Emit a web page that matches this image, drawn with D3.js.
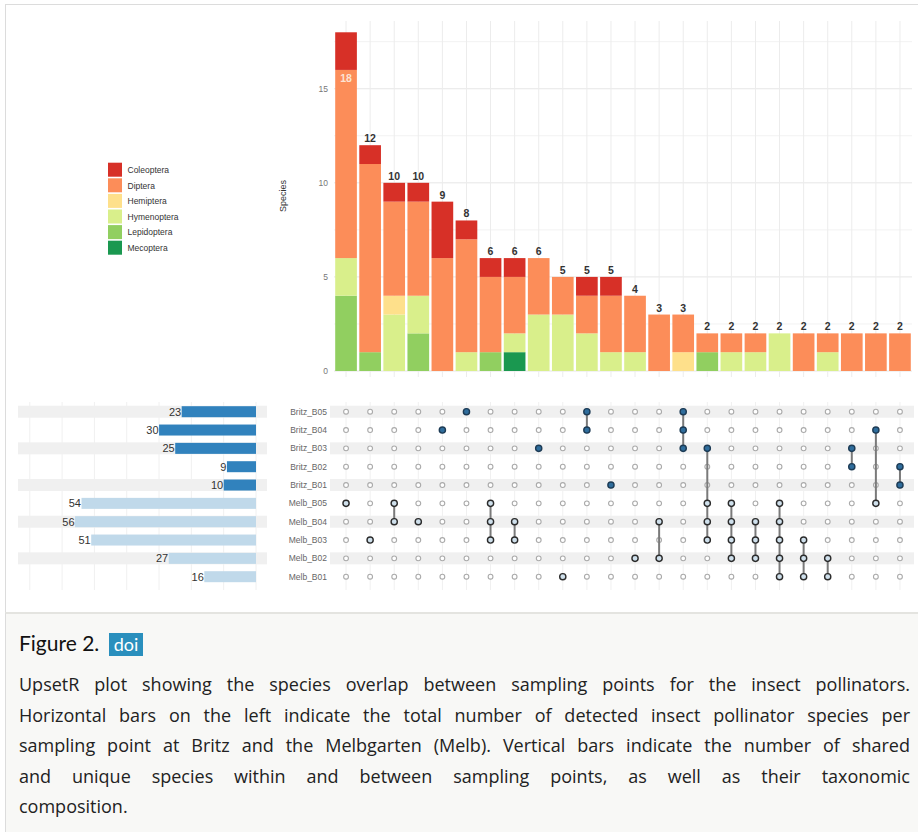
<!DOCTYPE html>
<html>
<head>
<meta charset="utf-8">
<script src="https://cdn.jsdelivr.net/npm/d3@7"></script>
<style>
  html, body { margin: 0; padding: 0; background: #fff; }
  body { width: 918px; height: 832px; position: relative; overflow: hidden; font-family: "Liberation Sans", Arial, sans-serif; }
  #figure { position: absolute; left: 5px; top: 4px; width: 930px; height: 608px; border-left: 1px solid #dcdcdc; border-top: 1px solid #dcdcdc; background: #fff; }
  #chart { position: absolute; left: 0; top: 0; }
  #caption { position: absolute; left: 5px; top: 612px; width: 930px; height: 240px; background: #f8f8f6; border-left: 1px solid #dcdcdc; border-top: 2px solid #e4e4e0; }
  #caption .title { position: absolute; left: 13px; top: 16px; font-family: Lato, "Open Sans", sans-serif; font-size: 21px; color: #111; }
  #caption .doi { display: inline-block; background: #2a8fbd; color: #fff; font-size: 18px; padding: 0 5px; line-height: 23px; margin-left: 4px; }
  #caption .text { position: absolute; left: 13px; top: 55px; width: 891px; font-family: "Open Sans", sans-serif; font-size: 18px; line-height: 30.5px; color: #222; }
  #caption .text span { display: block; white-space: nowrap; text-align: justify; text-align-last: justify; }
  #caption .text span.last { text-align-last: left; }
</style>
</head>
<body>
<div id="figure"></div>
<svg id="chart" width="918" height="612"></svg>
<div id="caption">
  <div class="title">Figure 2. <span class="doi">doi</span></div>
  <div class="text">
    <span>UpsetR plot showing the species overlap between sampling points for the insect pollinators.</span>
    <span>Horizontal bars on the left indicate the total number of detected insect pollinator species per</span>
    <span>sampling point at Britz and the Melbgarten (Melb). Vertical bars indicate the number of shared</span>
    <span>and unique species within and between sampling points, as well as their taxonomic</span>
    <span class="last">composition.</span>
  </div>
</div>
<script>
// sampling points (rows of the matrix), top to bottom
const sets = ['Britz_B05', 'Britz_B04', 'Britz_B03', 'Britz_B02', 'Britz_B01',
  'Melb_B05', 'Melb_B04', 'Melb_B03', 'Melb_B02', 'Melb_B01'];
const setSizes = [23, 30, 25, 9, 10, 54, 56, 51, 27, 16];

// insect orders (legend order) and their colours
const orders = ['Coleoptera', 'Diptera', 'Hemiptera', 'Hymenoptera', 'Lepidoptera', 'Mecoptera'];
const orderColors = ['#d73027', '#fc8d59', '#fee08b', '#d9ef8b', '#91cf60', '#1a9850'];

// species per order in each intersection (columns left to right)
const coleoptera  = [2, 1, 1, 1, 3, 1, 1, 1, 0, 0, 1, 1, 0, 0, 0, 0, 0, 0, 0, 0, 0, 0, 0, 0];
const diptera     = [10, 10, 5, 5, 6, 6, 4, 3, 3, 2, 2, 3, 3, 3, 2, 1, 1, 1, 0, 2, 1, 2, 2, 2];
const hemiptera   = [0, 0, 1, 0, 0, 0, 0, 0, 0, 0, 0, 0, 0, 0, 1, 0, 0, 0, 0, 0, 0, 0, 0, 0];
const hymenoptera = [2, 0, 3, 2, 0, 1, 0, 1, 3, 3, 2, 1, 1, 0, 0, 0, 1, 1, 2, 0, 1, 0, 0, 0];
const lepidoptera = [4, 1, 0, 2, 0, 0, 1, 0, 0, 0, 0, 0, 0, 0, 0, 1, 0, 0, 0, 0, 0, 0, 0, 0];
const mecoptera   = [0, 0, 0, 0, 0, 0, 0, 1, 0, 0, 0, 0, 0, 0, 0, 0, 0, 0, 0, 0, 0, 0, 0, 0];

// which sampling points make up each intersection
const intersections = [
  ['Melb_B05'], ['Melb_B03'], ['Melb_B05', 'Melb_B04'], ['Melb_B04'], ['Britz_B04'], ['Britz_B05'],
  ['Melb_B05', 'Melb_B04', 'Melb_B03'], ['Melb_B04', 'Melb_B03'], ['Britz_B03'], ['Melb_B01'],
  ['Britz_B05', 'Britz_B04'], ['Britz_B01'], ['Melb_B02'], ['Melb_B04', 'Melb_B02'],
  ['Britz_B05', 'Britz_B04', 'Britz_B03'], ['Britz_B03', 'Melb_B05', 'Melb_B04', 'Melb_B03'],
  ['Melb_B05', 'Melb_B04', 'Melb_B03', 'Melb_B02'], ['Melb_B04', 'Melb_B03', 'Melb_B02'],
  ['Melb_B05', 'Melb_B04', 'Melb_B03', 'Melb_B02', 'Melb_B01'], ['Melb_B03', 'Melb_B02', 'Melb_B01'],
  ['Melb_B02', 'Melb_B01'], ['Britz_B03', 'Britz_B02'], ['Britz_B04', 'Melb_B05'], ['Britz_B02', 'Britz_B01']
];

const yTicks = [0, 5, 10, 15];
const sizeTicks = [0, 10, 20, 30, 40, 50, 60, 70];

// build a row per intersection for d3.stack
const table = intersections.map((members, i) => ({
  i,
  Coleoptera: coleoptera[i],
  Diptera: diptera[i],
  Hemiptera: hemiptera[i],
  Hymenoptera: hymenoptera[i],
  Lepidoptera: lepidoptera[i],
  Mecoptera: mecoptera[i],
}));
table.forEach((d) => { d.total = d3.sum(orders, k => d[k]); });

const color = d3.scaleOrdinal().domain(orders).range(orderColors);

const svg = d3.select('#chart');
const font = '"Liberation Sans", Arial, sans-serif';

const x = d3.scaleBand()
  .domain(d3.range(intersections.length))
  .range([334, 912])
  .paddingInner(0.1)
  .paddingOuter(0.05);

const y = d3.scaleLinear().domain([0, 18.6]).range([371, 21]);

const row = d3.scalePoint().domain(sets).range([411.7, 576.7]);

const size = d3.scaleLinear().domain([0, 70]).range([256, 29.8]);

/**
 * Bar chart of intersections
 */

// minor + major gridlines
const gridValues = d3.range(0, 18.6, 2.5);
svg.append('g')
  .selectAll('line')
  .data(gridValues)
  .join('line')
  .attr('x1', 334)
  .attr('x2', 912)
  .attr('y1', d => y(d))
  .attr('y2', d => y(d))
  .attr('stroke', d => (d % 5 === 0 ? '#e6e6e6' : '#f2f2f2'))
  .attr('stroke-width', 1);

svg.append('g')
  .selectAll('line')
  .data(d3.range(intersections.length))
  .join('line')
  .attr('x1', d => x(d) + x.bandwidth() / 2)
  .attr('x2', d => x(d) + x.bandwidth() / 2)
  .attr('y1', y.range()[1])
  .attr('y2', y(0) + 6)
  .attr('stroke', '#ececec');

const stack = d3.stack().keys(orders.slice().reverse());
const series = stack(table);

svg.append('g')
  .selectAll('g')
  .data(series)
  .join('g')
  .attr('fill', d => color(d.key))
  .selectAll('rect')
  .data(d => d.filter(s => s[1] > s[0]))
  .join('rect')
  .attr('x', d => x(d.data.i))
  .attr('y', d => y(d[1]))
  .attr('width', x.bandwidth())
  .attr('height', d => y(d[0]) - y(d[1]));

// count labels; the tallest one sits inside its bar (clipped in the original)
const maxTotal = d3.max(table, d => d.total);
svg.append('g')
  .selectAll('text')
  .data(table)
  .join('text')
  .attr('x', d => x(d.i) + x.bandwidth() / 2)
  .attr('y', d => (d.total === maxTotal ? y(d.total - 2.65) : y(d.total) - 3))
  .attr('text-anchor', 'middle')
  .attr('font-family', font)
  .attr('font-size', 10.5)
  .attr('font-weight', 'bold')
  .attr('fill', d => (d.total === maxTotal ? '#fde3d3' : '#333'))
  .text(d => d.total);

// y axis
const yAxis = svg.append('g')
  .attr('transform', 'translate(328,0)')
  .call(d3.axisLeft(y).tickValues(yTicks).tickSize(0).tickPadding(0));
yAxis.select('.domain').remove();
yAxis.selectAll('text')
  .attr('font-family', font)
  .attr('font-size', 8.5)
  .attr('fill', '#777');

svg.append('text')
  .attr('transform', `translate(286,${(y(0) + y.range()[1]) / 2}) rotate(-90)`)
  .attr('text-anchor', 'middle')
  .attr('font-family', font)
  .attr('font-size', 9)
  .attr('fill', '#333')
  .text('Species');

// legend
const legend = svg.append('g')
  .selectAll('g')
  .data(orders)
  .join('g')
  .attr('transform', (d, i) => `translate(108,${162.7 + i * 15.6})`);
legend.append('rect')
  .attr('width', 14)
  .attr('height', 14)
  .attr('fill', d => color(d));
legend.append('text')
  .attr('x', 19.5)
  .attr('y', 10.3)
  .attr('font-family', font)
  .attr('font-size', 8.5)
  .attr('fill', '#333')
  .text(d => d);

/**
 * Set size bars (left)
 */

const stripeH = 12;
const striped = sets.filter((s, i) => i % 2 === 0);

svg.append('g')
  .selectAll('line')
  .data(sizeTicks)
  .join('line')
  .attr('x1', d => size(d))
  .attr('x2', d => size(d))
  .attr('y1', 402)
  .attr('y2', 590)
  .attr('stroke', '#f0f0f0');

svg.append('g')
  .selectAll('line')
  .data(d3.range(intersections.length))
  .join('line')
  .attr('x1', d => x(d) + x.bandwidth() / 2)
  .attr('x2', d => x(d) + x.bandwidth() / 2)
  .attr('y1', 402)
  .attr('y2', 590)
  .attr('stroke', '#f0f0f0');

svg.append('g')
  .selectAll('rect')
  .data(striped)
  .join('rect')
  .attr('x', 18)
  .attr('y', d => row(d) - stripeH / 2)
  .attr('width', 267 - 18)
  .attr('height', stripeH)
  .attr('fill', '#f0f0f0');

svg.append('g')
  .selectAll('rect')
  .data(striped)
  .join('rect')
  .attr('x', 330)
  .attr('y', d => row(d) - stripeH / 2)
  .attr('width', 914 - 330)
  .attr('height', stripeH)
  .attr('fill', '#f0f0f0');

const isBritz = s => s.startsWith('Britz');

svg.append('g')
  .selectAll('rect')
  .data(sets)
  .join('rect')
  .attr('x', (d, i) => size(setSizes[i]))
  .attr('y', d => row(d) - 5.5)
  .attr('width', (d, i) => size(0) - size(setSizes[i]))
  .attr('height', 11)
  .attr('fill', d => (isBritz(d) ? '#3182bd' : '#c0d9ea'));

svg.append('g')
  .selectAll('text')
  .data(sets)
  .join('text')
  .attr('x', (d, i) => size(setSizes[i]) - 0.5)
  .attr('y', d => row(d) + 4)
  .attr('text-anchor', 'end')
  .attr('font-family', font)
  .attr('font-size', 11)
  .attr('fill', '#333')
  .text((d, i) => setSizes[i]);

// row names
svg.append('g')
  .selectAll('text')
  .data(sets)
  .join('text')
  .attr('x', 327)
  .attr('y', d => row(d) + 3)
  .attr('text-anchor', 'end')
  .attr('font-family', font)
  .attr('font-size', 8.5)
  .attr('fill', '#666')
  .text(d => d);

/**
 * Intersection matrix
 */

const cells = [];
intersections.forEach((members, i) => {
  sets.forEach((s) => {
    cells.push({ i, set: s, on: members.includes(s) });
  });
});

const cx = i => x(i) + x.bandwidth() / 2;

svg.append('g')
  .selectAll('circle')
  .data(cells.filter(c => !c.on))
  .join('circle')
  .attr('cx', d => cx(d.i))
  .attr('cy', d => row(d.set))
  .attr('r', 2.4)
  .attr('fill', '#fff')
  .attr('stroke', '#aaa')
  .attr('stroke-width', 1.1);

svg.append('g')
  .selectAll('line')
  .data(intersections.map((m, i) => ({ i, m })).filter(d => d.m.length > 1))
  .join('line')
  .attr('x1', d => cx(d.i))
  .attr('x2', d => cx(d.i))
  .attr('y1', d => d3.min(d.m, s => row(s)))
  .attr('y2', d => d3.max(d.m, s => row(s)))
  .attr('stroke', '#7a7a7a')
  .attr('stroke-width', 2);

svg.append('g')
  .selectAll('circle')
  .data(cells.filter(c => c.on))
  .join('circle')
  .attr('cx', d => cx(d.i))
  .attr('cy', d => row(d.set))
  .attr('r', 3.1)
  .attr('fill', d => (isBritz(d.set) ? '#2f6d9c' : '#cfe0ec'))
  .attr('stroke', d => (isBritz(d.set) ? '#1d3b55' : '#2b2b2b'))
  .attr('stroke-width', 1.4);
</script>
</body>
</html>
